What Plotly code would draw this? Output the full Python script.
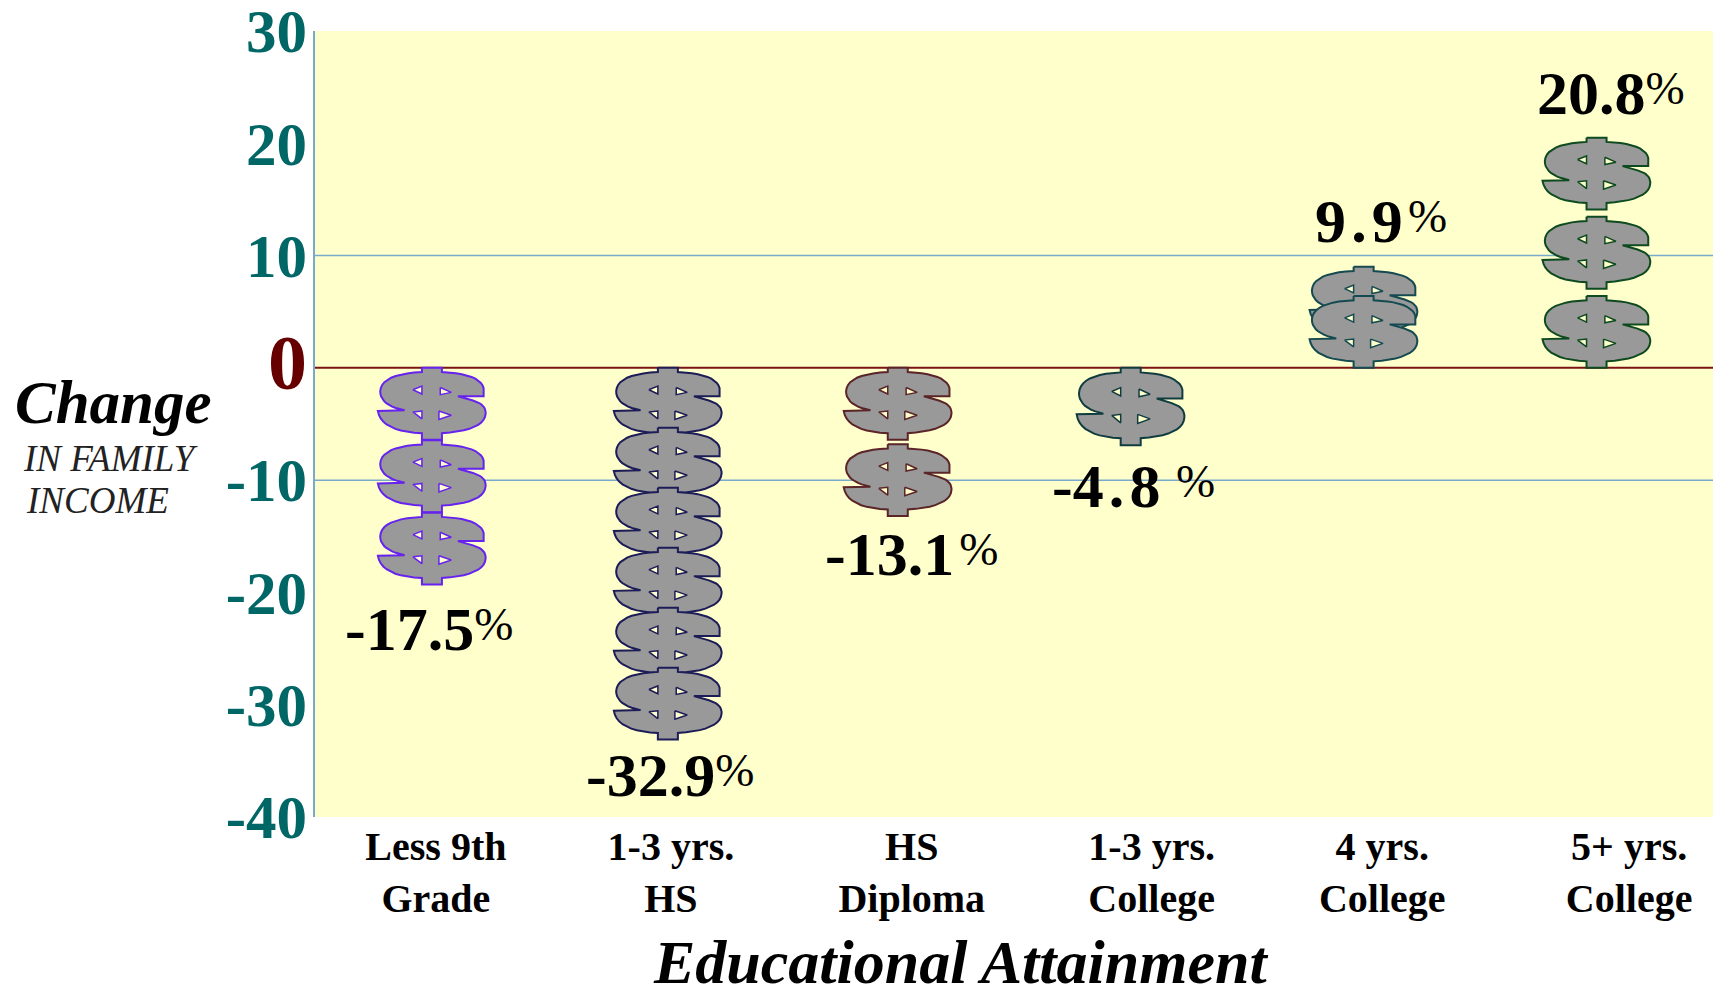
import numpy as np
import plotly.graph_objects as go

# ---- data ----
categories = ["Less 9th<br>Grade", "1-3 yrs.<br>HS", "HS<br>Diploma",
              "1-3 yrs.<br>College", "4 yrs.<br>College", "5+ yrs.<br>College"]
change_pct = [-17.5, -32.9, -13.1, -4.8, 9.9, 20.8]
label_text = ["-17.5", "-32.9", "-13.1\u200a", "-4\u200a.\u200a8 ", "9\u200a.\u200a9\u200a", "20.8"]
icon_counts = [3, 6, 2, 1, 2, 3]
stack_ends = [-19.3, -33.1, -13.2, -6.9, 9.0, 20.5]
outline_colors = ["#6622EE", "#1C1C58", "#5A2428", "#103C40", "#144A50", "#0E4A20"]
bar_pos = [0, 1.013, 2, 3, 4, 5]
cat_tick_pos = [0.017, 1.026, 2.06, 3.09, 4.08, 5.14]
label_pos = [-0.013, 1.023, 2.06, 3.01, 4.075, 5.06]
label_shift = [-8, 1, -2, -5, 10, 9]
y_ticks = [30, 20, 10, 0, -10, -20, -30, -40]
grid_vals = [10, -10]
ICON_H = 6.4
ICON_HALF_W = 0.232
BG = "#FFFFCC"
TEAL = "#006666"
FONT = "Liberation Serif"


def q(p0, c, p1, n=10):
    t = np.linspace(0, 1, n + 1)[1:]
    return [((1 - a) ** 2 * p0[0] + 2 * a * (1 - a) * c[0] + a ** 2 * p1[0],
             (1 - a) ** 2 * p0[1] + 2 * a * (1 - a) * c[1] + a ** 2 * p1[1]) for a in t]


# dollar-sign pictogram outline (glyph design units)
outline = [(217, 510), (277, 510), (277, 523)]
outline += q((277, 523), (392, 528), (402, 572))
outline += [(402, 597), (325, 597), (370, 610)]
outline += q((370, 610), (410, 622), (408, 650))
outline += q((408, 650), (405, 702), (277, 710))
outline += [(277, 730), (217, 730), (217, 710)]
outline += q((217, 710), (95, 705), (85, 642))
outline += [(165, 640)]
outline += q((165, 640), (92, 625), (92, 582))
outline += q((92, 582), (95, 528), (217, 523))
holes = [
    [(190, 577), (217, 566), (217, 590), (190, 577)],
    [(272, 570), (305, 585), (272, 592), (272, 570)],
    [(190, 645), (217, 642), (217, 666), (190, 645)],
    [(268, 642), (305, 655), (268, 668), (268, 642)],
]


def to_unit(pts):
    a = np.array(pts, float)
    return (a[:, 0] - 247) / 162, (a[:, 1] - 510) / 220


ou, ov = to_unit(outline)

fig = go.Figure()

for val in grid_vals:
    fig.add_shape(type="line", xref="paper", x0=0, x1=1, yref="y", y0=val, y1=val,
                  line=dict(color="#78AACB", width=1.5), layer="below")
fig.add_shape(type="line", xref="paper", x0=0, x1=1, yref="y", y0=0, y1=0,
              line=dict(color="#7A1414", width=2), layer="below")

for xc, n, end, col in zip(bar_pos, icon_counts, stack_ends, outline_colors):
    sign = 1 if end > 0 else -1
    length = abs(end)
    h = length if n == 1 else ICON_H
    step = 0 if n == 1 else (length - h) / (n - 1)
    order = range(n - 1, -1, -1) if sign > 0 else range(n)
    for k in order:
        top = k * step + h if sign > 0 else -k * step
        xs = xc + ou * ICON_HALF_W
        ys = top - ov * h
        fig.add_trace(go.Scatter(x=np.r_[xs, xs[0]], y=np.r_[ys, ys[0]], mode="lines",
                                 fill="toself", fillcolor="#999999",
                                 line=dict(color=col, width=2),
                                 hoverinfo="skip", showlegend=False))
        hx, hy = [], []
        for hole in holes:
            u, v = to_unit(hole)
            hx += list(xc + u * ICON_HALF_W) + [None]
            hy += list(top - v * h) + [None]
        fig.add_trace(go.Scatter(x=hx, y=hy, mode="lines", fill="toself", fillcolor=BG,
                                 line=dict(color=col, width=1.5),
                                 hoverinfo="skip", showlegend=False))

for lx, txt, end, shift in zip(label_pos, label_text, stack_ends, label_shift):
    neg = end < 0
    fig.add_annotation(
        x=lx, y=end, xref="x", yref="y", showarrow=False,
        text=f'<b>{txt}</b><span style="font-size:47px;baseline-shift:10px">%</span>',
        font=dict(family=FONT, size=62, color="black"),
        yanchor="top" if neg else "bottom",
        yshift=shift,
    )

fig.add_annotation(xref="paper", yref="paper", x=-0.216, y=0.572, xanchor="left", yanchor="top",
                   showarrow=False, align="left",
                   text="<b><i>Change</i></b>",
                   font=dict(family=FONT, size=61, color="black"))
fig.add_annotation(xref="paper", yref="paper", x=-0.2105, y=0.485, xanchor="left", yanchor="top",
                   showarrow=False, text="<i>IN FAMILY</i>",
                   font=dict(family=FONT, size=37, color="#222222"))
fig.add_annotation(xref="paper", yref="paper", x=-0.208, y=0.431, xanchor="left", yanchor="top",
                   showarrow=False, text="<i>INCOME</i>",
                   font=dict(family=FONT, size=37, color="#222222"))
fig.add_annotation(xref="paper", yref="paper", x=0.462, y=-0.184, xanchor="center", yanchor="middle",
                   showarrow=False, text="<b><i>Educational Attainment</i></b>",
                   font=dict(family=FONT, size=62, color="black"))


def y_tick_label(t):
    if t == 0:
        return '<b><span style="color:#660000;font-size:78px">0</span></b>'
    return f'<b><span style="color:{TEAL}">{t}</span></b>'


fig.update_layout(
    width=1719, height=988,
    margin=dict(l=315, r=6, t=31, b=171, autoexpand=False),
    paper_bgcolor="white", plot_bgcolor=BG, showlegend=False,
    font=dict(family=FONT, color="black"),
    xaxis=dict(
        range=[-0.502, 5.5], tickvals=cat_tick_pos, ticktext=[f"<b>{c}</b>" for c in categories],
        showgrid=False, zeroline=False, ticks="", showline=False,
        tickfont=dict(family=FONT, size=40, color="black"), ticklabelstandoff=2,
        ticklabeloverflow="allow",
    ),
    yaxis=dict(
        range=[-40, 30], tickvals=y_ticks, ticktext=[y_tick_label(t) for t in y_ticks],
        showgrid=False, zeroline=False, ticks="", showline=True,
        linecolor="#78AACB", linewidth=1.5, mirror=False,
        tickfont=dict(family=FONT, size=61, color=TEAL),
        ticklabelstandoff=-6, ticklabeloverflow="allow",
    ),
)

fig.write_html("out.html", config={"displayModeBar": False},
               post_script="document.body.style.margin='0';document.body.style.overflow='hidden';")
